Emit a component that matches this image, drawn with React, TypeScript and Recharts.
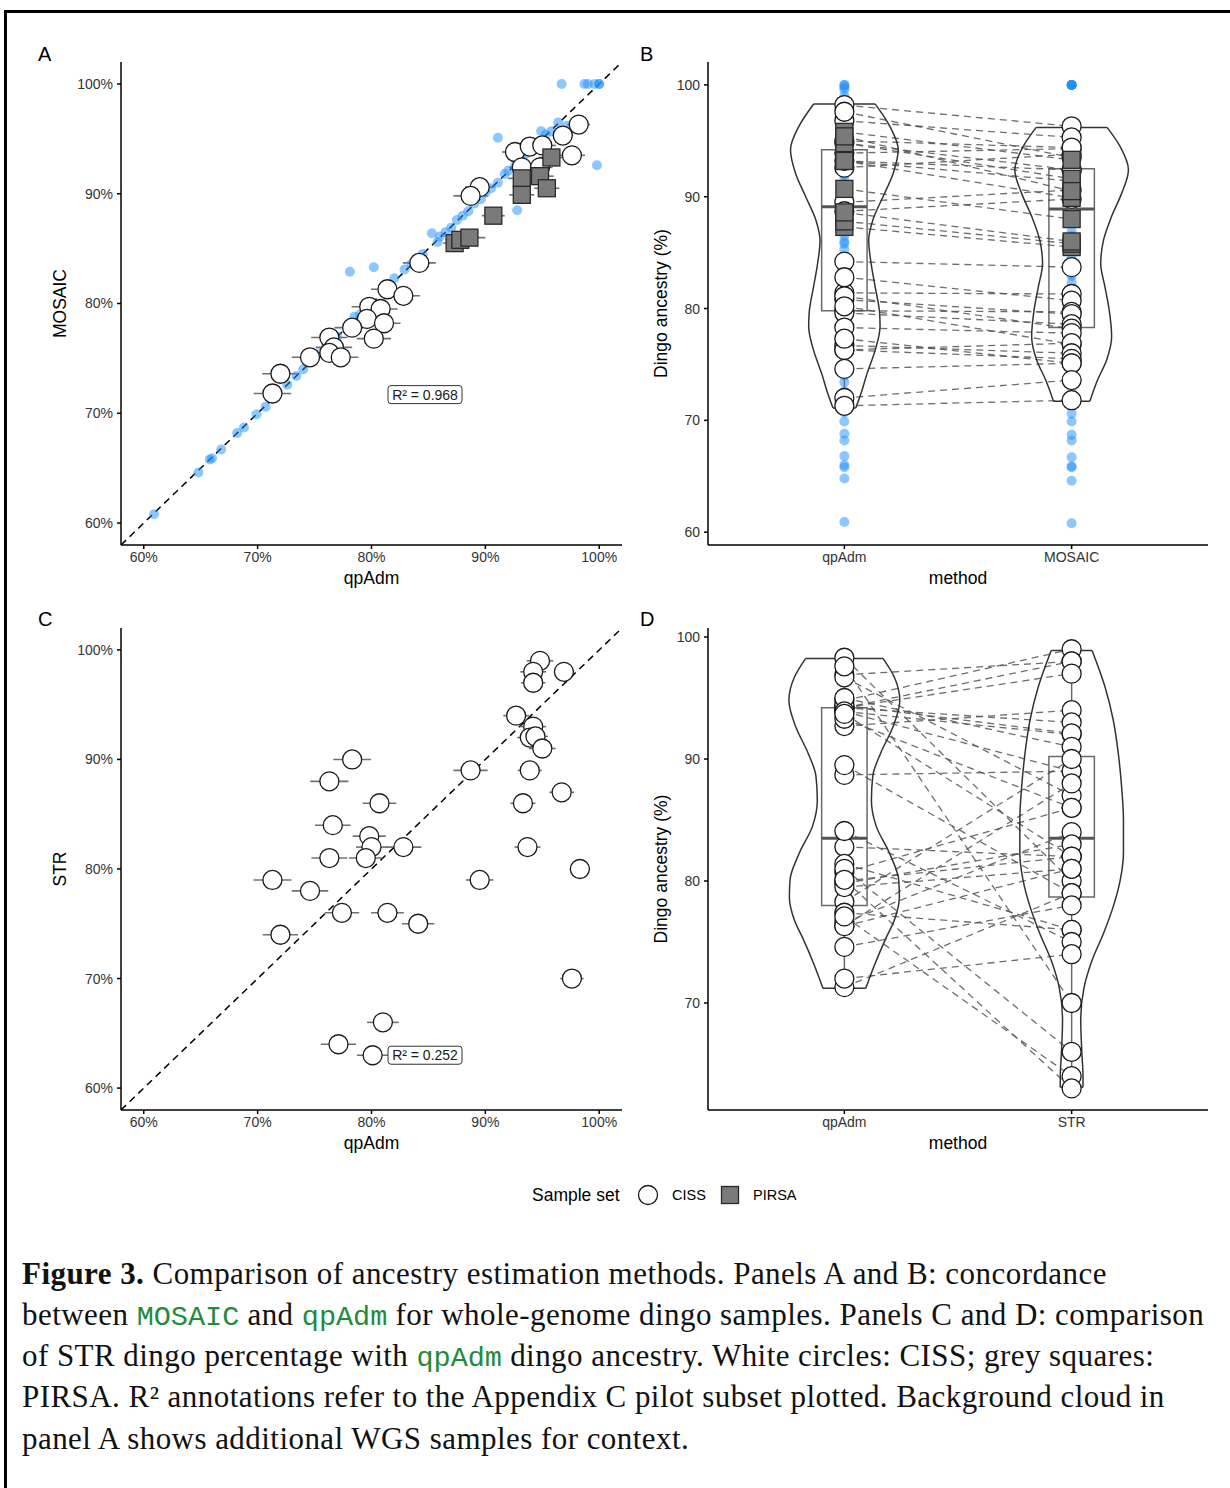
import React from 'react';
import {
  ScatterChart, Scatter, XAxis, YAxis, ErrorBar,
  ReferenceLine, ReferenceArea, ReferenceDot,
} from 'recharts';

// Background WGS cloud (panel A, and the blue dots in panel B): qpAdm %, MOSAIC %
const wgsQpAdm = [
  60.9, 64.8, 65.8, 66.0, 66.8, 68.2, 68.8, 69.9, 70.7, 72.6,
  73.4, 74.0, 75.0, 75.6, 76.0, 77.0, 78.5, 79.0, 80.2, 81.4,
  82.0, 82.9, 83.5, 84.0, 84.5, 85.8, 86.0, 86.5, 87.0, 87.5,
  88.0, 88.5, 89.0, 89.6, 90.0, 90.5, 91.1, 91.7, 92.0, 92.6,
  93.0, 93.5, 94.0, 94.9, 95.3, 95.8, 96.4, 97.2, 78.1, 80.2,
  85.3, 91.1, 92.8, 99.8, 96.7, 98.7, 99.0, 99.6, 100, 100,
];
const wgsMosaic = [
  60.8, 64.6, 65.8, 65.9, 66.7, 68.2, 68.7, 69.9, 70.6, 72.6,
  73.4, 74.0, 75.0, 75.5, 76.1, 77.0, 78.8, 79.0, 79.8, 81.6,
  82.3, 83.1, 83.6, 84.1, 84.5, 85.6, 86.1, 86.5, 86.9, 87.6,
  88.0, 88.4, 89.1, 89.5, 90.1, 90.5, 91.0, 91.8, 92.1, 92.5,
  93.1, 93.6, 94.2, 95.7, 95.4, 95.7, 96.5, 96.2, 82.9, 83.3,
  86.4, 95.1, 88.5, 92.6, 100, 100, 100, 100, 100, 100,
];

// CISS pilot samples, panels A/B
const cissQpAdm = [98.2, 96.8, 97.6, 92.6, 93.9, 95.0, 93.2, 94.8, 89.5, 88.7, 84.2, 81.4, 82.8, 79.8, 80.8, 79.6, 81.1, 80.2, 78.3, 76.3, 76.7, 76.3, 77.3, 74.6, 72.0, 71.3];
const cissMosaic = [96.3, 95.3, 93.5, 93.8, 94.3, 94.4, 92.4, 92.4, 90.6, 89.8, 83.7, 81.3, 80.7, 79.7, 79.5, 78.6, 78.2, 76.8, 77.8, 76.9, 76.0, 75.5, 75.1, 75.1, 73.6, 71.8];
const cissErr = [1.0, 0.9, 1.15, 1.15, 1.2, 1.2, 1.1, 1.1, 1.3, 1.5, 1.45, 1.45, 1.45, 1.55, 1.5, 1.5, 1.45, 1.5, 1.55, 1.6, 1.6, 1.6, 1.55, 1.6, 1.6, 1.65];

// PIRSA pilot samples, panels A/B
const pirsaQpAdm = [95.8, 93.2, 94.8, 93.2, 95.4, 90.7, 87.3, 87.8, 88.6];
const pirsaMosaic = [93.3, 91.4, 91.6, 89.9, 90.5, 88.0, 85.5, 85.8, 86.0];
const pirsaErr = [1.1, 1.2, 1.2, 1.1, 1.1, 1.0, 1.0, 1.3, 1.4];

// Panels C/D: qpAdm vs STR dingo %
const strQpAdm = [94.8, 94.2, 96.9, 94.2, 92.7, 94.2, 93.9, 94.4, 95.0, 88.7, 93.9, 96.7, 93.3, 93.7, 98.3, 89.5, 97.6, 78.3, 76.3, 80.7, 76.6, 79.8, 80.0, 82.8, 76.3, 79.5, 71.3, 74.6, 77.4, 81.4, 84.1, 72.0, 81.0, 77.1, 80.1];
const strPct = [99, 98, 98, 97, 94, 93, 92, 92.1, 91, 89, 89, 87, 86, 82, 80, 79, 70, 90, 88, 86, 84, 83, 82, 82, 81, 81, 79, 78, 76, 76, 75, 74, 66, 64, 63];
const strErr = [1.17, 1.13, 0.88, 1.07, 1.13, 1.14, 1.1, 1.1, 1.17, 1.5, 1.05, 1.08, 1.1, 1.14, 0.9, 1.2, 1.03, 1.66, 1.67, 1.48, 1.57, 1.45, 1.36, 1.58, 1.58, 1.47, 1.66, 1.6, 1.52, 1.44, 1.42, 1.55, 1.39, 1.55, 1.38];

// violin outlines: level (%) and half width (in category units)
const vioBQpLevels = [98.3, 96.3, 94.2, 92.1, 90.0, 87.9, 86.1, 84.0, 82.0, 79.6, 78.4, 76.3, 74.2, 72.4, 71.1];
const vioBQpWidths = [0.135, 0.2, 0.237, 0.215, 0.17, 0.125, 0.107, 0.118, 0.135, 0.155, 0.157, 0.136, 0.1, 0.073, 0.05];
const vioBMoLevels = [96.2, 94.5, 92.4, 90.3, 88.2, 86.1, 84.0, 81.9, 79.9, 77.5, 75.4, 73.6, 71.7];
const vioBMoWidths = [0.156, 0.213, 0.25, 0.22, 0.175, 0.14, 0.128, 0.147, 0.165, 0.176, 0.154, 0.114, 0.08];
const vioDQpLevels = [98.25, 96.7, 94.8, 92.6, 90.5, 88.6, 86.6, 84.5, 82.3, 80.1, 78.7, 76.8, 75.2, 73.0, 71.2];
const vioDQpWidths = [0.17, 0.22, 0.244, 0.213, 0.16, 0.125, 0.119, 0.14, 0.198, 0.239, 0.242, 0.22, 0.18, 0.13, 0.094];
const vioDStrLevels = [98.9, 95.9, 93.2, 90.5, 87.7, 85.0, 82.3, 80.1, 77.9, 75.7, 73.5, 71.3, 68.6, 65.9, 64.0, 63.1];
const vioDStrWidths = [0.09, 0.147, 0.183, 0.205, 0.22, 0.228, 0.228, 0.214, 0.183, 0.14, 0.09, 0.055, 0.04, 0.045, 0.05, 0.05];

// box stats: [lower whisker, Q1, median, Q3, upper whisker]
const boxBQp = [71.1, 79.8, 89.1, 94.2, 98.3];
const boxBMo = [71.7, 78.3, 88.9, 92.5, 96.3];
const boxDQp = [71.2, 78.0, 83.5, 94.2, 98.3];
const boxDStr = [63.0, 78.7, 83.5, 90.2, 99.0];

const pctTicks = [60, 70, 80, 90, 100];
const ancTicksB = [60, 70, 80, 90, 100];
const ancTicksD = [70, 80, 90, 100];
const methodsB = ['qpAdm', 'MOSAIC'];
const methodsD = ['qpAdm', 'STR'];

const FONT = '"Liberation Sans", Arial, Helvetica, sans-serif';
const SERIF = '"Liberation Serif", "Times New Roman", serif';
const MONO = '"Liberation Mono", "DejaVu Sans Mono", monospace';

type Pt = { x: number; y: number; err?: number };

const toPts = (xs: number[], ys: number[], errs?: number[]): Pt[] =>
  xs.map((x, i) => ({ x, y: ys[i], err: errs ? errs[i] : 0 }));
const column = (pos: number, ys: number[]): Pt[] => ys.map((y) => ({ x: pos, y }));

const CircleShape = (p: any) => (
  <circle cx={p.cx} cy={p.cy} r={9.5} fill="#fff" stroke="#1a1a1a" strokeWidth={1.3} />
);
const SquareShape = (p: any) => (
  <rect x={p.cx - 8.5} y={p.cy - 8.5} width={17} height={17} fill="#7a7a7a" stroke="#2a2a2a" strokeWidth={1.3} />
);
const BlueDot = (p: any) => <circle cx={p.cx} cy={p.cy} r={5} fill="#1E90FF" fillOpacity={0.5} />;
const NoShape = () => <g />;

const tickStyle = { fontFamily: FONT, fontSize: 14, fill: '#333' };
const axisLine = { stroke: '#000', strokeWidth: 1.5 };

const xTitle = (text: string) => (p: any) => {
  const vb = p.viewBox;
  return (
    <text x={vb.x + vb.width / 2} y={vb.y + 39} textAnchor="middle" fontFamily={FONT} fontSize={17.5} fill="#000">
      {text}
    </text>
  );
};

const yTitle = (text: string, x: number) => (p: any) => {
  const vb = p.viewBox;
  const cy = vb.y + vb.height / 2;
  return (
    <text x={x} y={cy} transform={`rotate(-90 ${x} ${cy})`} textAnchor="middle" dy={6} fontFamily={FONT} fontSize={17.5} fill="#000">
      {text}
    </text>
  );
};

const R2Box = (text: string) => (p: any) => (
  <g>
    <rect x={p.cx - 37} y={p.cy - 9} width={74} height={18} rx={3} fill="#fff" stroke="#333" strokeWidth={1} />
    <text x={p.cx} y={p.cy + 5} textAnchor="middle" fontFamily={FONT} fontSize={14} fill="#1a1a1a">{text}</text>
  </g>
);

function ScatterPanel(props: {
  left: number; top: number; height: number; yLabel: string;
  circles: Pt[]; squares: Pt[]; cloud: Pt[]; r2: { x: number; y: number; text: string };
}) {
  const { left, top, height, yLabel, circles, squares, cloud, r2 } = props;
  return (
    <div style={{ position: 'absolute', left, top }}>
      <ScatterChart width={640} height={height} margin={{ top: 62, right: 18, bottom: 0, left: 61 }}>
        <XAxis
          type="number" dataKey="x" domain={[58, 102]} allowDataOverflow ticks={pctTicks} interval={0}
          tickFormatter={(v: number) => `${v}%`} height={55} tick={tickStyle} tickSize={4} tickMargin={3}
          axisLine={axisLine} tickLine={axisLine} label={{ content: xTitle('qpAdm') }}
        />
        <YAxis
          type="number" dataKey="y" domain={[58, 102]} allowDataOverflow ticks={pctTicks} interval={0}
          tickFormatter={(v: number) => `${v}%`} width={60} tick={tickStyle} tickSize={4} tickMargin={4}
          axisLine={axisLine} tickLine={axisLine} label={{ content: yTitle(yLabel, 60) }}
        />
        <ReferenceLine
          segment={[{ x: 58, y: 58 }, { x: 102, y: 102 }]} ifOverflow="visible"
          stroke="#000" strokeWidth={1.5} strokeDasharray="7 5"
        />
        {cloud.length > 0 && <Scatter data={cloud} shape={BlueDot} isAnimationActive={false} />}
        <Scatter data={circles} shape={CircleShape} isAnimationActive={false} />
        {squares.length > 0 && <Scatter data={squares} shape={SquareShape} isAnimationActive={false} />}
        <Scatter data={[...circles, ...squares]} shape={NoShape} isAnimationActive={false}>
          <ErrorBar dataKey="err" direction="x" width={0} stroke="#707070" strokeWidth={1.6} />
        </Scatter>
        <ReferenceDot x={r2.x} y={r2.y} r={0} shape={R2Box(r2.text)} />
      </ScatterChart>
    </div>
  );
}

type Violin = { levels: number[]; widths: number[] };

function PairedPanel(props: {
  left: number; top: number; height: number; yDomain: number[]; yTicks: number[]; labels: string[];
  col1: number[]; col2: number[]; sq1: number[]; sq2: number[]; bg1: number[]; bg2: number[];
  violins: Violin[]; boxes: number[][];
}) {
  const { left, top, height, yDomain, yTicks, labels, col1, col2, sq1, sq2, bg1, bg2, violins, boxes } = props;
  const outline = { stroke: '#333', strokeWidth: 1.5 };

  const violinEls = violins.flatMap((v, i) => {
    const pos = i + 1;
    const n = v.levels.length;
    const right = v.levels.map((y, k) => ({ x: pos + v.widths[k], y }));
    const leftSide = v.levels.map((y, k) => ({ x: pos - v.widths[k], y }));
    return [
      <Scatter key={`vr${i}`} data={right} shape={NoShape} line={outline} lineJointType="monotoneY" isAnimationActive={false} />,
      <Scatter key={`vl${i}`} data={leftSide} shape={NoShape} line={outline} lineJointType="monotoneY" isAnimationActive={false} />,
      <ReferenceLine key={`vt${i}`} segment={[{ x: pos - v.widths[0], y: v.levels[0] }, { x: pos + v.widths[0], y: v.levels[0] }]} {...outline} />,
      <ReferenceLine key={`vb${i}`} segment={[{ x: pos - v.widths[n - 1], y: v.levels[n - 1] }, { x: pos + v.widths[n - 1], y: v.levels[n - 1] }]} {...outline} />,
    ];
  });

  const boxEls = boxes.flatMap((b, i) => {
    const pos = i + 1;
    const [lo, q1, med, q3, hi] = b;
    return [
      <ReferenceLine key={`wl${i}`} segment={[{ x: pos, y: lo }, { x: pos, y: q1 }]} stroke="#6a6a6a" strokeWidth={1.5} />,
      <ReferenceLine key={`wh${i}`} segment={[{ x: pos, y: q3 }, { x: pos, y: hi }]} stroke="#6a6a6a" strokeWidth={1.5} />,
      <ReferenceArea key={`bx${i}`} x1={pos - 0.1} x2={pos + 0.1} y1={q1} y2={q3} fill="#fff" fillOpacity={0} stroke="#6a6a6a" strokeWidth={1.5} strokeOpacity={1} />,
      <ReferenceLine key={`md${i}`} segment={[{ x: pos - 0.1, y: med }, { x: pos + 0.1, y: med }]} stroke="#555" strokeWidth={3} />,
    ];
  });

  const pairs = [...col1.map((a, i) => [a, col2[i]]), ...sq1.map((a, i) => [a, sq2[i]])];
  const pairEls = pairs.map(([a, b], i) => (
    <ReferenceLine
      key={`p${i}`} segment={[{ x: 1, y: a }, { x: 2, y: b }]}
      stroke="#555" strokeOpacity={0.85} strokeWidth={1.3} strokeDasharray="7 5"
    />
  ));

  return (
    <div style={{ position: 'absolute', left, top }}>
      <ScatterChart width={610} height={height} margin={{ top: 62, right: 22, bottom: 0, left: 28 }}>
        <XAxis
          type="number" dataKey="x" domain={[0.4, 2.6]} allowDataOverflow ticks={[1, 2]} interval={0}
          tickFormatter={(v: number) => labels[v - 1]} height={55} tick={tickStyle} tickSize={4} tickMargin={3}
          axisLine={axisLine} tickLine={axisLine} label={{ content: xTitle('method') }}
        />
        <YAxis
          type="number" dataKey="y" domain={yDomain} allowDataOverflow ticks={yTicks} interval={0}
          width={60} tick={tickStyle} tickSize={4} tickMargin={4}
          axisLine={axisLine} tickLine={axisLine} label={{ content: yTitle('Dingo ancestry (%)', 41) }}
        />
        {violinEls}
        {boxEls}
        {bg1.length > 0 && <Scatter data={column(1, bg1)} shape={BlueDot} isAnimationActive={false} />}
        {bg2.length > 0 && <Scatter data={column(2, bg2)} shape={BlueDot} isAnimationActive={false} />}
        {pairEls}
        <Scatter data={column(1, col1)} shape={CircleShape} isAnimationActive={false} />
        <Scatter data={column(2, col2)} shape={CircleShape} isAnimationActive={false} />
        {sq1.length > 0 && <Scatter data={column(1, sq1)} shape={SquareShape} isAnimationActive={false} />}
        {sq2.length > 0 && <Scatter data={column(2, sq2)} shape={SquareShape} isAnimationActive={false} />}
      </ScatterChart>
    </div>
  );
}

const captionLines: React.ReactNode[] = [
  <><b>Figure 3.</b> Comparison of ancestry estimation methods. Panels A and B: concordance</>,
  <>between <span className="code">MOSAIC</span> and <span className="code">qpAdm</span> for whole-genome dingo samples. Panels C and D: comparison</>,
  <>of STR dingo percentage with <span className="code">qpAdm</span> dingo ancestry. White circles: CISS; grey squares:</>,
  <>PIRSA. R² annotations refer to the Appendix C pilot subset plotted. Background cloud in</>,
  <>panel A shows additional WGS samples for context.</>,
];

const letter = (text: string, left: number, top: number) => (
  <div style={{ position: 'absolute', left, top, fontFamily: FONT, fontSize: 20, lineHeight: '20px' }}>{text}</div>
);

export default function App() {
  const cloud = toPts(wgsQpAdm, wgsMosaic);
  const cissA = toPts(cissQpAdm, cissMosaic, cissErr);
  const pirsaA = toPts(pirsaQpAdm, pirsaMosaic, pirsaErr);
  const cissC = toPts(strQpAdm, strPct, strErr);

  return (
    <div style={{ position: 'absolute', left: 0, top: 0, width: 1230, height: 1488, background: '#fff', overflow: 'hidden' }}>
      <style>{`.code{font-family:${MONO};color:#228B3B;font-size:28.5px;letter-spacing:0;}`}</style>
      <div style={{ position: 'absolute', left: 4, top: 10, width: 1240, height: 1490, borderTop: '3px solid #000', borderLeft: '3px solid #000' }} />

      {letter('A', 38, 44)}
      {letter('B', 640, 44)}
      {letter('C', 38, 609)}
      {letter('D', 640, 609)}

      <ScatterPanel left={0} top={0} height={600} yLabel="MOSAIC" circles={cissA} squares={pirsaA} cloud={cloud}
        r2={{ x: 84.7, y: 71.7, text: 'R² = 0.968' }} />
      <PairedPanel left={620} top={0} height={600} yDomain={[58.85, 102.05]} yTicks={ancTicksB} labels={methodsB}
        col1={cissQpAdm} col2={cissMosaic} sq1={pirsaQpAdm} sq2={pirsaMosaic} bg1={wgsQpAdm} bg2={wgsMosaic}
        violins={[{ levels: vioBQpLevels, widths: vioBQpWidths }, { levels: vioBMoLevels, widths: vioBMoWidths }]}
        boxes={[boxBQp, boxBMo]} />
      <ScatterPanel left={0} top={566} height={599} yLabel="STR" circles={cissC} squares={[]} cloud={[]}
        r2={{ x: 84.7, y: 63.0, text: 'R² = 0.252' }} />
      <PairedPanel left={620} top={566} height={599} yDomain={[61.23, 100.74]} yTicks={ancTicksD} labels={methodsD}
        col1={strQpAdm} col2={strPct} sq1={[]} sq2={[]} bg1={[]} bg2={[]}
        violins={[{ levels: vioDQpLevels, widths: vioDQpWidths }, { levels: vioDStrLevels, widths: vioDStrWidths }]}
        boxes={[boxDQp, boxDStr]} />

      {/* legend */}
      <div style={{ position: 'absolute', left: 532, top: 1183, height: 24, display: 'flex', alignItems: 'center', fontFamily: FONT, fontSize: 17.5 }}>Sample set</div>
      <svg style={{ position: 'absolute', left: 637, top: 1184 }} width={22} height={22}>
        <circle cx={11} cy={11} r={9.5} fill="#fff" stroke="#1a1a1a" strokeWidth={1.3} />
      </svg>
      <div style={{ position: 'absolute', left: 672, top: 1183, height: 24, display: 'flex', alignItems: 'center', fontFamily: FONT, fontSize: 14.5 }}>CISS</div>
      <svg style={{ position: 'absolute', left: 719, top: 1184 }} width={22} height={22}>
        <rect x={2.5} y={2.5} width={17} height={17} fill="#7a7a7a" stroke="#2a2a2a" strokeWidth={1.3} />
      </svg>
      <div style={{ position: 'absolute', left: 753, top: 1183, height: 24, display: 'flex', alignItems: 'center', fontFamily: FONT, fontSize: 14.5 }}>PIRSA</div>

      {/* caption */}
      {captionLines.map((line, i) => (
        <div key={i} style={{ position: 'absolute', left: 22, top: 1257.5 + i * 41.25, fontFamily: SERIF, fontSize: 31, lineHeight: '31px', letterSpacing: 0.45, whiteSpace: 'nowrap', color: '#111' }}>
          {line}
        </div>
      ))}
    </div>
  );
}
